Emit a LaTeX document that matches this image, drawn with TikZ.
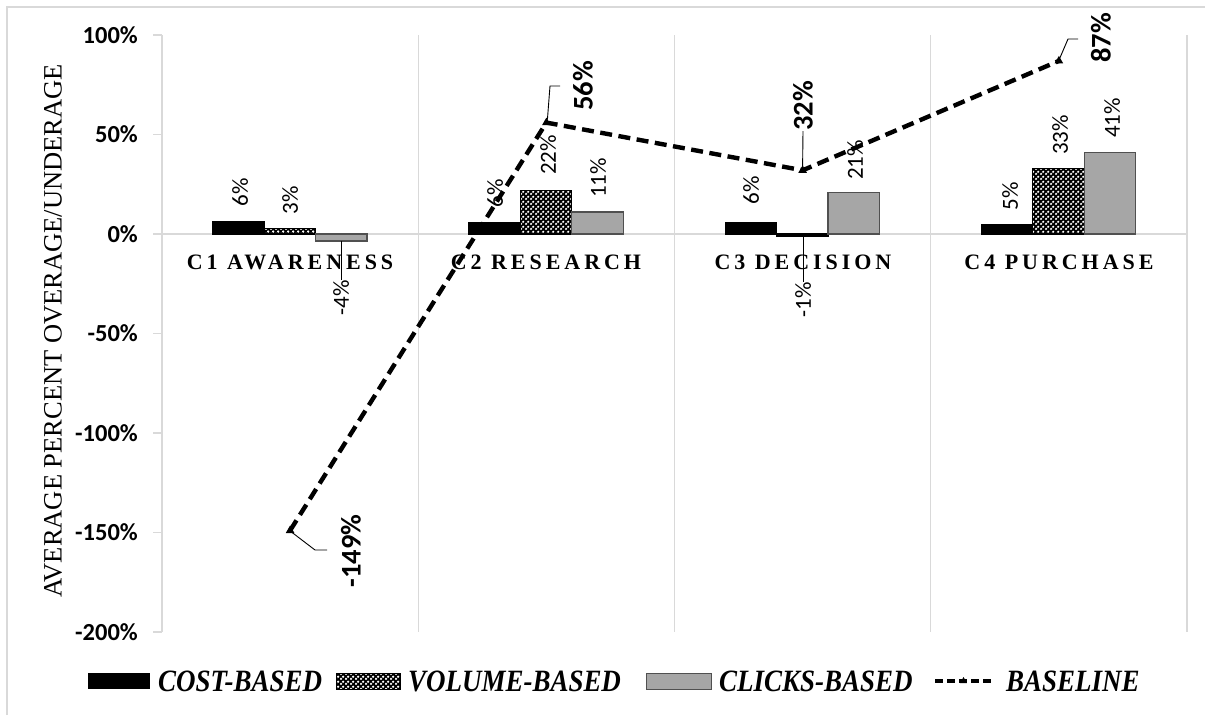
\documentclass[tikz,border=0pt]{standalone}
\usepackage{fontspec}
\setmainfont{Liberation Serif}
\newfontfamily\calfont{Carlito}
\newfontfamily\catfont[LetterSpace=18]{Liberation Serif}
\usetikzlibrary{shapes.geometric,patterns.meta}
\definecolor{gridgray}{HTML}{D9D9D9}
\definecolor{clickfill}{HTML}{A6A6A6}
\definecolor{clickedge}{HTML}{505050}
\tikzdeclarepattern{
  name=holes,
  type=uncolored,
  bounding box={(0pt,0pt) and (5pt,5pt)},
  tile size={(5pt,5pt)},
  code={
    \fill (1.25pt,1.25pt) circle (1.45pt);
    \fill (3.75pt,3.75pt) circle (1.45pt);
  }
}
\tikzset{
  grid/.style={draw=gridgray, line width=1.2pt},
  tick/.style={font=\calfont\bfseries\fontsize{24.5}{24.5}\selectfont, anchor=east, inner sep=0pt},
  dl/.style={font=\calfont\fontsize{23}{23}\selectfont, rotate=90, inner sep=0pt},
  bl/.style={font=\calfont\bfseries\fontsize{28.5}{28.5}\selectfont, rotate=90, inner sep=0pt},
  cat/.style={font=\catfont\bfseries\fontsize{22}{22}\selectfont, inner sep=0pt},
  leg/.style={font=\bfseries\itshape\fontsize{31}{31}\selectfont, anchor=west, inner sep=0pt, xscale=0.87, transform shape},
  costbar/.style={fill=black, draw=black, line width=1pt},
  volbar/.style={pattern={holes}, pattern color=white, draw=black, line width=1.4pt},
  clickbar/.style={fill=clickfill, draw=clickedge, line width=1.4pt},
  baseline/.style={line width=4.4pt, dash pattern=on 12pt off 6.5pt},
  leader/.style={draw=black, line width=0.9pt},
  marker/.style={regular polygon, regular polygon sides=3, fill=black, inner sep=0pt, minimum size=10pt}
}
\begin{document}
\begin{tikzpicture}[x=1pt,y=-1pt]
\useasboundingbox (0,0) rectangle (1205,715);
\fill[white] (0,0) rectangle (1205,715);
% outer frame
\draw[gridgray, line width=2pt] (7,715) -- (7,7) -- (1205,7);
% axis and grid
\draw[grid] (162,35) -- (162,632);
\foreach \gx in {418.25,674.5,930.75,1187} \draw[grid] (\gx,35) -- (\gx,632);
\foreach \gy in {35,134.5,333.5,433,532.5,632} \draw[grid] (153,\gy) -- (162,\gy);
\draw[grid] (153,234) -- (1187,234);
% tick labels
\node[tick] (t100) at (138,35) {100\%};
\node[tick] (t50) at (138,134.5) {50\%};
\node[tick] (t0) at (138,234) {0\%};
\node[tick] (tm50) at (138,333.5) {-50\%};
\node[tick] (tm100) at (138,433) {-100\%};
\node[tick] (tm150) at (138,532.5) {-150\%};
\node[tick] (tm200) at (138,632) {-200\%};
% y title
\node[font=\fontsize{26.5}{26.5}\selectfont, rotate=90, inner sep=0pt] (ytitle) at (53,331) {AVERAGE PERCENT OVERAGE/UNDERAGE};
% bars C1
\draw[costbar] (212.5,234) rectangle (264,221.5);
\fill[black] (264,234) rectangle (315.5,228.4);
\draw[volbar] (264,234) rectangle (315.5,228.4);
\draw[clickbar] (315.5,234) rectangle (367,241);
% bars C2
\draw[costbar] (468.75,234) rectangle (520.25,222.1);
\fill[black] (520.25,234) rectangle (571.75,190.2);
\draw[volbar] (520.25,234) rectangle (571.75,190.2);
\draw[clickbar] (571.75,234) rectangle (623.25,212.1);
% bars C3
\draw[costbar] (725,234) rectangle (776.5,222.1);
\draw[black, line width=1.4pt, fill=white] (776.5,234) rectangle (828,236);
\draw[clickbar] (828,234) rectangle (879.5,192.2);
% bars C4
\draw[costbar] (981.25,234) rectangle (1032.75,224.1);
\fill[black] (1032.75,234) rectangle (1084.25,168.3);
\draw[volbar] (1032.75,234) rectangle (1084.25,168.3);
\draw[clickbar] (1084.25,234) rectangle (1135.75,152.4);
% category labels
\node[cat] (c1) at (290,262) {C1 AWARENESS};
\node[cat] (c2) at (546,262) {C2 RESEARCH};
\node[cat] (c3) at (803,262) {C3 DECISION};
\node[cat] (c4) at (1059,262) {C4 PURCHASE};
% data labels
\node[dl] (l11) at (240,192) {6\%};
\node[dl] (l12) at (290,200) {3\%};
\node[dl] (l13) at (341,298) {-4\%};
\node[dl] (l21) at (495,193) {6\%};
\node[dl] (l22) at (548,155) {22\%};
\node[dl] (l23) at (598,178) {11\%};
\node[dl] (l31) at (751,190) {6\%};
\node[dl] (l32) at (803,300) {-1\%};
\node[dl] (l33) at (855,160) {21\%};
\node[dl] (l41) at (1010,196) {5\%};
\node[dl] (l42) at (1060,135) {33\%};
\node[dl] (l43) at (1112,118) {41\%};
\draw[leader] (341,241) -- (l13.east);
\draw[leader] (803,236) -- (l32.east);
% baseline series
\coordinate (b1) at (290.1,530.5);
\coordinate (b2) at (546.4,122.6);
\coordinate (b3) at (802.6,170.3);
\coordinate (b4) at (1058.9,60.9);
\draw[baseline] (b1) -- (b2) -- (b3) -- (b4);
\foreach \b in {b1,b2,b3,b4} \node[marker] at (\b) {};
\node[bl] (v1) at (351,551) {-149\%};
\node[bl] (v2) at (583,86) {56\%};
\node[bl] (v3) at (803,106) {32\%};
\node[bl] (v4) at (1101,38) {87\%};
\draw[leader] (b1) ++(2,2) -- (315,550) -- (327,550);
\draw[leader] (b2) ++(1,-3) -- (550,86) -- (560,86);
\draw[leader] (b3) ++(0,-4) -- (v3.west);
\draw[leader] (b4) ++(1,-3) -- (1068,39) -- (1078,39);
% legend
\fill[black] (88,673) rectangle (150,689);
\node[leg] (lg1) at (158,681) {COST-BASED};
\fill[black] (336,673) rectangle (400,689);
\draw[volbar, line width=1pt] (336,673) rectangle (400,689);
\node[leg] (lg2) at (408,681) {VOLUME-BASED};
\draw[clickbar, line width=1pt] (646,673) rectangle (711,689);
\node[leg] (lg3) at (719,681) {CLICKS-BASED};
\coordinate (ls) at (935,681);
\coordinate (le) at (992,681);
\draw[line width=4pt, dash pattern=on 8pt off 4pt] (ls) -- (le);
\node[marker, minimum size=8pt] (lm) at (963.5,681) {};
\node[leg] (lg4) at (1006,681) {BASELINE};
\end{tikzpicture}
\end{document}
